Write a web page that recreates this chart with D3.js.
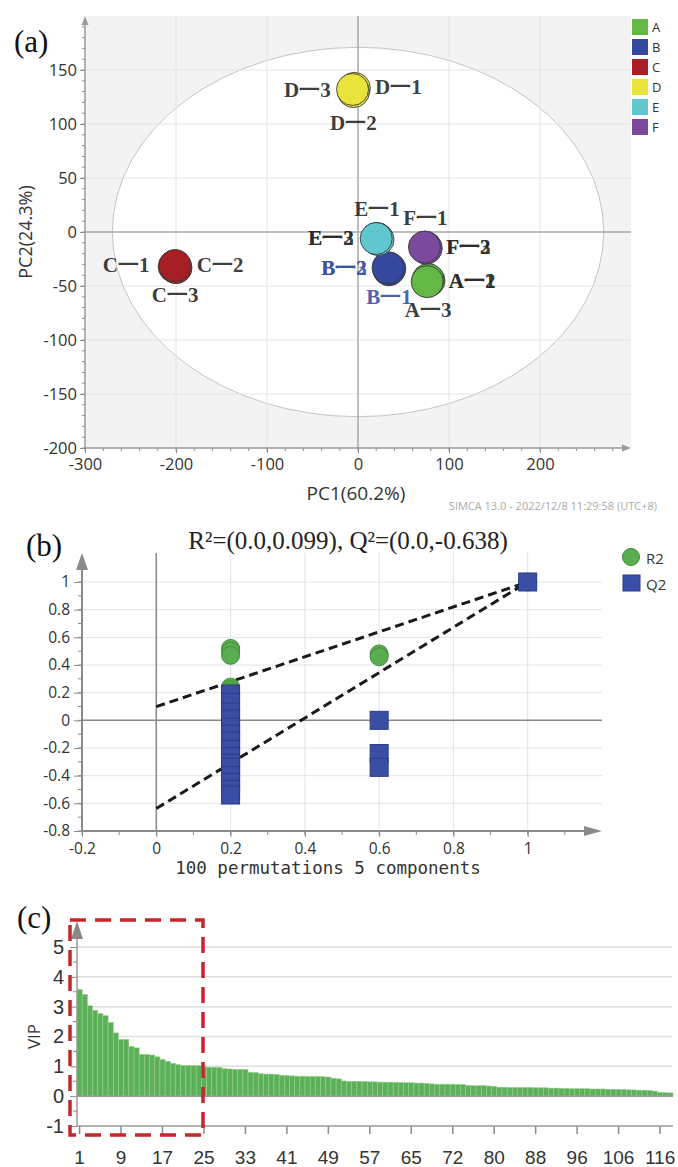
<!DOCTYPE html>
<html>
<head>
<meta charset="utf-8">
<script src="https://cdn.jsdelivr.net/npm/d3@7"></script>
<style>
body { margin: 0; background: #fff; }
svg { display: block; }
</style>
</head>
<body>
<svg width="678" height="1167"></svg>
<script>
"use strict";
// ---------- (a) PCA score plot ----------
const groups = ["A", "B", "C", "D", "E", "F"];
const groupColors = ["#63b846", "#34489e", "#a71f25", "#e8e43c", "#61c8cf", "#7b4a9d"];
const sampleGroup = ["A", "A", "A", "B", "B", "B", "C", "C", "C", "D", "D", "D", "E", "E", "E", "F", "F", "F"];
const sampleRep = [1, 2, 3, 1, 2, 3, 1, 2, 3, 1, 2, 3, 1, 2, 3, 1, 2, 3];
const pc1 = [78, 77, 76, 34, 35, 33, -202, -200, -201, -4, -5, -6, 21, 22, 20, 74, 75, 73];
const pc2 = [-45, -44, -46, -35, -34, -33, -32, -33, -31, 133, 130, 132, -6, -7, -6, -14, -15, -14];
const pcaXTicks = [-300, -200, -100, 0, 100, 200];
const pcaYTicks = [-200, -150, -100, -50, 0, 50, 100, 150];
const ellipseRadii = [270, 171];

// ---------- (b) permutation test ----------
const r2X = [0.2, 0.2, 0.2, 0.2, 0.2, 0.2, 0.6, 0.6, 1.0];
const r2Y = [0.52, 0.50, 0.47, 0.24, 0.22, 0.20, 0.48, 0.46, 1.0];
const q2X = [0.2, 0.2, 0.2, 0.2, 0.2, 0.2, 0.2, 0.2, 0.2, 0.2, 0.2, 0.2, 0.2, 0.2, 0.2, 0.6, 0.6, 0.6, 1.0];
const q2Y = [0.19, 0.13, 0.06, 0.01, -0.05, -0.1, -0.15, -0.21, -0.26, -0.31, -0.34, -0.4, -0.45, -0.5, -0.54, 0.0, -0.24, -0.34, 1.0];
const regX = [0, 1];
const r2Line = [0.099, 1];
const q2Line = [-0.638, 1];
const permXTicks = [-0.2, 0, 0.2, 0.4, 0.6, 0.8, 1];
const permYTicks = [-0.8, -0.6, -0.4, -0.2, 0, 0.2, 0.4, 0.6, 0.8, 1];

// ---------- (c) VIP ----------
const vip = [3.58, 3.41, 3.03, 2.88, 2.77, 2.70, 2.47, 2.12, 1.90, 1.90,
  1.67, 1.62, 1.40, 1.40, 1.38, 1.32, 1.23, 1.17, 1.10, 1.06,
  1.03, 1.03, 1.02, 1.02, 0.99, 0.97, 0.97, 0.96, 0.92, 0.91,
  0.90, 0.90, 0.89, 0.80, 0.79, 0.75, 0.74, 0.74, 0.73, 0.70,
  0.69, 0.68, 0.67, 0.67, 0.66, 0.66, 0.66, 0.65, 0.64, 0.60,
  0.58, 0.51, 0.50, 0.50, 0.50, 0.49, 0.48, 0.48, 0.47, 0.47,
  0.47, 0.46, 0.46, 0.45, 0.45, 0.44, 0.44, 0.43, 0.41, 0.40,
  0.40, 0.40, 0.40, 0.39, 0.39, 0.36, 0.35, 0.35, 0.35, 0.34,
  0.33, 0.30, 0.30, 0.29, 0.29, 0.29, 0.29, 0.29, 0.28, 0.28,
  0.28, 0.27, 0.27, 0.26, 0.26, 0.25, 0.25, 0.25, 0.25, 0.24,
  0.24, 0.24, 0.23, 0.23, 0.23, 0.22, 0.21, 0.21, 0.20, 0.20,
  0.19, 0.17, 0.13, 0.12, 0.11];
const vipTickLabels = ["1", "9", "17", "25", "33", "41", "49", "57", "65", "72", "80", "88", "96", "106", "116"];
const vipYTicks = [-1, 0, 1, 2, 3, 4, 5];

const svg = d3.select("svg");
const serif = "'Liberation Serif', 'Times New Roman', serif";
const sans = "'Open Sans', 'Noto Sans', sans-serif";
// plain hyphen for negatives, like the original
const fmt = d => String(+d.toFixed(2));

function styleAxis(g, size, font) {
  g.select(".domain").remove();
  g.selectAll(".tick line").attr("stroke", "#8a8a8a");
  g.selectAll(".tick text").attr("fill", "#333").style("font-family", font || sans).style("font-size", size + "px");
}

// ================= panel (a) =================
const xA = d3.scaleLinear().domain([-300, 300]).range([85, 631]);
const yA = d3.scaleLinear().domain([-200, 200]).range([448, 16]);
const pa = svg.append("g");

pa.append("rect")
  .attr("x", xA(-300)).attr("y", yA(200))
  .attr("width", xA(300) - xA(-300)).attr("height", yA(-200) - yA(200))
  .attr("fill", "#f3f3f3");
pa.append("ellipse")
  .attr("cx", xA(0)).attr("cy", yA(0))
  .attr("rx", xA(ellipseRadii[0]) - xA(0)).attr("ry", yA(0) - yA(ellipseRadii[1]))
  .attr("fill", "#fff").attr("stroke", "#c4c4c4").attr("stroke-width", 1);

pa.append("g").selectAll("line")
  .data(pcaXTicks.filter(d => d !== 0 && d !== -300))
  .join("line")
  .attr("x1", d => xA(d)).attr("x2", d => xA(d))
  .attr("y1", yA(200)).attr("y2", yA(-200))
  .attr("stroke", "#e4e4e4");
pa.append("g").selectAll("line")
  .data(pcaYTicks.filter(d => d !== 0 && d !== -200))
  .join("line")
  .attr("x1", xA(-300)).attr("x2", xA(300))
  .attr("y1", d => yA(d)).attr("y2", d => yA(d))
  .attr("stroke", "#e4e4e4");
pa.append("line")
  .attr("x1", xA(0)).attr("x2", xA(0)).attr("y1", yA(200)).attr("y2", yA(-200))
  .attr("stroke", "#a8a8a8").attr("stroke-width", 1.5);
pa.append("line")
  .attr("x1", xA(-300)).attr("x2", xA(300)).attr("y1", yA(0)).attr("y2", yA(0))
  .attr("stroke", "#a8a8a8").attr("stroke-width", 1.5);

// minor ticks
pa.append("g").selectAll("line")
  .data(d3.range(-300, 300, 20))
  .join("line")
  .attr("x1", d => xA(d)).attr("x2", d => xA(d))
  .attr("y1", yA(-200)).attr("y2", yA(-200) + 3)
  .attr("stroke", "#8a8a8a");
pa.append("g").selectAll("line")
  .data(d3.range(-200, 200, 10))
  .join("line")
  .attr("x1", xA(-300) - 3).attr("x2", xA(-300))
  .attr("y1", d => yA(d)).attr("y2", d => yA(d))
  .attr("stroke", "#8a8a8a");

pa.append("g")
  .attr("transform", `translate(0,${yA(-200)})`)
  .call(d3.axisBottom(xA).tickValues(pcaXTicks).tickFormat(fmt).tickSize(5).tickPadding(5))
  .call(g => styleAxis(g, 16.5));
pa.append("g")
  .attr("transform", `translate(${xA(-300)},0)`)
  .call(d3.axisLeft(yA).tickValues(pcaYTicks).tickFormat(fmt).tickSize(5).tickPadding(3))
  .call(g => styleAxis(g, 16.5));
pa.append("line")
  .attr("x1", xA(-300)).attr("x2", xA(300) - 4).attr("y1", yA(-200)).attr("y2", yA(-200))
  .attr("stroke", "#9a9a9a").attr("stroke-width", 1.5);
pa.append("line")
  .attr("x1", xA(-300)).attr("x2", xA(-300)).attr("y1", yA(-200)).attr("y2", yA(200) + 4)
  .attr("stroke", "#9a9a9a").attr("stroke-width", 1.5);
pa.append("path")
  .attr("d", `M${xA(300)},${yA(-200)} l-9,-3.5 l0,7 Z`).attr("fill", "#9a9a9a");
pa.append("path")
  .attr("d", `M${xA(-300)},${yA(200)} l-3.5,9 l7,0 Z`).attr("fill", "#9a9a9a");

const color = d3.scaleOrdinal().domain(groups).range(groupColors);
const samples = pc1.map((d, i) => ({ g: sampleGroup[i], rep: sampleRep[i], x: pc1[i], y: pc2[i] }));
pa.append("g").selectAll("circle")
  .data(samples)
  .join("circle")
  .attr("cx", d => xA(d.x)).attr("cy", d => yA(d.y)).attr("r", 16)
  .attr("fill", d => color(d.g))
  .attr("stroke", "#3a3a3a").attr("stroke-width", 0.9);

// sample labels: [group, text, dx, dy] relative to group centre (pixels)
const labelPlacement = [
  ["D", "D一3", -46, 0], ["D", "D一1", 45, -3], ["D", "D一2", 0, 33],
  ["C", "C一1", -49, -2], ["C", "C一2", 45, -2], ["C", "C一3", 0, 28],
  ["E", "E一1", 0, -30], ["E", "E一2", -46, -1], ["E", "E一3", -46, -1],
  ["F", "F一1", 0, -29], ["F", "F一2", 43, 0], ["F", "F一3", 43, 0],
  ["B", "B一2", -45, -1], ["B", "B一3", -45, -1], ["B", "B一1", 0, 28],
  ["A", "A一1", 44, 0], ["A", "A一2", 44, 0], ["A", "A一3", 0, 29]
];
const groupCentre = g => {
  const s = samples.filter(d => d.g === g);
  return [xA(d3.mean(s, d => d.x)), yA(d3.mean(s, d => d.y))];
};
pa.append("g").selectAll("text")
  .data(labelPlacement)
  .join("text")
  .attr("x", d => groupCentre(d[0])[0] + d[2])
  .attr("y", d => groupCentre(d[0])[1] + d[3])
  .attr("text-anchor", "middle").attr("dominant-baseline", "central")
  .style("font-family", serif).style("font-weight", "bold").style("font-size", "21px")
  .attr("fill", d => d[0] === "B" ? "#3d52a8" : "#2b2b2b")
  .attr("fill-opacity", 0.92)
  .text(d => d[1]);

const legA = pa.append("g").attr("transform", "translate(632,19)");
legA.selectAll("rect").data(groups).join("rect")
  .attr("x", 0).attr("y", (d, i) => i * 20).attr("width", 16).attr("height", 16)
  .attr("fill", d => color(d));
legA.selectAll("text").data(groups).join("text")
  .attr("x", 20).attr("y", (d, i) => i * 20 + 8)
  .attr("dominant-baseline", "central")
  .style("font-family", sans).style("font-size", "13px").attr("fill", "#333")
  .text(d => d);

pa.append("text").attr("x", 14).attr("y", 52)
  .style("font-family", serif).style("font-size", "31px").attr("fill", "#111").text("(a)");
pa.append("text")
  .attr("transform", `translate(25,${yA(0)}) rotate(-90)`)
  .attr("text-anchor", "middle").attr("dominant-baseline", "central")
  .style("font-family", sans).style("font-size", "18px").attr("fill", "#333").text("PC2(24.3%)");
pa.append("text").attr("x", 356).attr("y", 493)
  .attr("text-anchor", "middle").attr("dominant-baseline", "central")
  .style("font-family", sans).style("font-size", "19px").attr("fill", "#333").text("PC1(60.2%)");
pa.append("text").attr("x", 657).attr("y", 505)
  .attr("text-anchor", "end").attr("dominant-baseline", "central")
  .style("font-family", sans).style("font-size", "11px").attr("fill", "#aaa")
  .text("SIMCA 13.0 - 2022/12/8 11:29:58 (UTC+8)");

// ================= panel (b) =================
const xB = d3.scaleLinear().domain([-0.2, 1.2]).range([82, 602]);
const yB = d3.scaleLinear().domain([-0.8, 1.0]).range([831, 582]);
const pb = svg.append("g");
const yTopB = 553;

pb.append("g").selectAll("line")
  .data(permXTicks.filter(d => d > 0))
  .join("line")
  .attr("x1", d => xB(d)).attr("x2", d => xB(d)).attr("y1", yTopB).attr("y2", yB(-0.8))
  .attr("stroke", "#e2e4ea");
pb.append("g").selectAll("line")
  .data(permYTicks.filter(d => d !== 0 && d !== -0.8))
  .join("line")
  .attr("x1", xB(-0.2)).attr("x2", xB(1.2)).attr("y1", d => yB(d)).attr("y2", d => yB(d))
  .attr("stroke", "#e2e4ea");
pb.append("line")
  .attr("x1", xB(0)).attr("x2", xB(0)).attr("y1", yTopB).attr("y2", yB(-0.8))
  .attr("stroke", "#888").attr("stroke-width", 1.5);
pb.append("line")
  .attr("x1", xB(-0.2)).attr("x2", xB(1.2)).attr("y1", yB(0)).attr("y2", yB(0))
  .attr("stroke", "#888").attr("stroke-width", 1.5);

pb.append("g").selectAll("line")
  .data(d3.range(-0.8, 1.001, 0.1))
  .join("line")
  .attr("x1", xB(-0.2) - 4).attr("x2", xB(-0.2)).attr("y1", d => yB(d)).attr("y2", d => yB(d))
  .attr("stroke", "#8a8a8a");
pb.append("g").selectAll("line")
  .data(d3.range(-0.2, 1.15, 0.1))
  .join("line")
  .attr("x1", d => xB(d)).attr("x2", d => xB(d)).attr("y1", yB(-0.8)).attr("y2", yB(-0.8) + 4)
  .attr("stroke", "#8a8a8a");
pb.append("g")
  .attr("transform", `translate(0,${yB(-0.8)})`)
  .call(d3.axisBottom(xB).tickValues(permXTicks).tickFormat(fmt).tickSize(6).tickPadding(6))
  .call(g => styleAxis(g, 15.5));
pb.append("g")
  .attr("transform", `translate(${xB(-0.2)},0)`)
  .call(d3.axisLeft(yB).tickValues(permYTicks).tickFormat(fmt).tickSize(8).tickPadding(4))
  .call(g => styleAxis(g, 15.5));
pb.append("line")
  .attr("x1", xB(-0.2)).attr("x2", xB(1.2) - 10).attr("y1", yB(-0.8)).attr("y2", yB(-0.8))
  .attr("stroke", "#8a8a8a").attr("stroke-width", 2);
pb.append("line")
  .attr("x1", xB(-0.2)).attr("x2", xB(-0.2)).attr("y1", yB(-0.8)).attr("y2", yTopB + 10)
  .attr("stroke", "#8a8a8a").attr("stroke-width", 2);
pb.append("path")
  .attr("d", `M${xB(1.2)},${yB(-0.8)} l-18,-5 l0,10 Z`).attr("fill", "#8a8a8a");
pb.append("path")
  .attr("d", `M${xB(-0.2)},${yTopB} l-6,17 l12,0 Z`).attr("fill", "#8a8a8a");

const regLine = d3.line().x(d => xB(d[0])).y(d => yB(d[1]));
[r2Line, q2Line].forEach(vals => {
  pb.append("path")
    .attr("d", regLine(regX.map((x, i) => [x, vals[i]])))
    .attr("fill", "none").attr("stroke", "#1a1a1a")
    .attr("stroke-width", 3).attr("stroke-dasharray", "9,5");
});

pb.append("g").selectAll("circle")
  .data(r2X.map((x, i) => [x, r2Y[i]]))
  .join("circle")
  .attr("cx", d => xB(d[0])).attr("cy", d => yB(d[1])).attr("r", 9)
  .attr("fill", "#5bae50").attr("stroke", "#3f8b3a").attr("stroke-width", 1);
pb.append("g").selectAll("rect")
  .data(q2X.map((x, i) => [x, q2Y[i]]))
  .join("rect")
  .attr("x", d => xB(d[0]) - 9).attr("y", d => yB(d[1]) - 9)
  .attr("width", 18).attr("height", 18)
  .attr("fill", "#3b4ea6").attr("stroke", "#2c3b86").attr("stroke-width", 1);

pb.append("circle").attr("cx", 631).attr("cy", 557).attr("r", 8.5)
  .attr("fill", "#5bae50").attr("stroke", "#3f8b3a");
pb.append("rect").attr("x", 623).attr("y", 575).attr("width", 17).attr("height", 16)
  .attr("fill", "#3b4ea6").attr("stroke", "#2c3b86");
pb.append("text").attr("x", 646).attr("y", 558).attr("dominant-baseline", "central")
  .style("font-family", sans).style("font-size", "15px").attr("fill", "#333").text("R2");
pb.append("text").attr("x", 646).attr("y", 584).attr("dominant-baseline", "central")
  .style("font-family", sans).style("font-size", "15px").attr("fill", "#333").text("Q2");

pb.append("text").attr("x", 348).attr("y", 549).attr("text-anchor", "middle")
  .style("font-family", serif).style("font-size", "25px").attr("fill", "#222")
  .text("R²=(0.0,0.099), Q²=(0.0,-0.638)");
pb.append("text").attr("x", 26).attr("y", 556)
  .style("font-family", serif).style("font-size", "31px").attr("fill", "#111").text("(b)");
pb.append("text").attr("x", 328).attr("y", 868)
  .attr("text-anchor", "middle").attr("dominant-baseline", "central")
  .style("font-family", "'DejaVu Sans Mono', monospace").style("font-size", "17.5px").attr("fill", "#333")
  .text("100 permutations 5 components");

// ================= panel (c) =================
const xC = d3.scaleBand().domain(d3.range(vip.length)).range([77, 673]).padding(0);
const yC = d3.scaleLinear().domain([-1, 5]).range([1126, 947]);
const pc = svg.append("g");

pc.append("g").selectAll("line")
  .data(vipYTicks.filter(d => d > 0))
  .join("line")
  .attr("x1", xC.range()[0]).attr("x2", 672).attr("y1", d => yC(d)).attr("y2", d => yC(d))
  .attr("stroke", "#dedede").attr("stroke-width", 1.5);

pc.append("g").selectAll("rect")
  .data(vip)
  .join("rect")
  .attr("x", (d, i) => xC(i)).attr("width", xC.bandwidth())
  .attr("y", d => yC(d)).attr("height", d => yC(0) - yC(d))
  .attr("fill", "#5cb057").attr("stroke", "#93d08e").attr("stroke-width", 0.6);

pc.append("line")
  .attr("x1", xC.range()[0]).attr("x2", 673).attr("y1", yC(0)).attr("y2", yC(0))
  .attr("stroke", "#9a9a9a").attr("stroke-width", 1.5);

const vipTickIdx = vipTickLabels.map((d, i) => i * 8);
pc.append("g")
  .attr("transform", `translate(0,${yC(-1)})`)
  .call(d3.axisBottom(xC).tickValues(vipTickIdx).tickFormat((d, i) => vipTickLabels[i]).tickSize(8).tickPadding(17))
  .call(g => styleAxis(g, 19, "'Liberation Sans', Arial, sans-serif"))
  .call(g => g.selectAll(".tick line").attr("stroke-width", 1.5));
pc.append("g")
  .attr("transform", `translate(${xC.range()[0]},0)`)
  .call(d3.axisLeft(yC).tickValues(vipYTicks).tickFormat(fmt).tickSize(7).tickPadding(6))
  .call(g => styleAxis(g, 20, "'Liberation Sans', Arial, sans-serif"));
pc.append("g").selectAll("line")
  .data(d3.range(-0.5, 5, 1))
  .join("line")
  .attr("x1", xC.range()[0] - 4).attr("x2", xC.range()[0]).attr("y1", d => yC(d)).attr("y2", d => yC(d))
  .attr("stroke", "#8a8a8a");
pc.append("line")
  .attr("x1", xC.range()[0]).attr("x2", 673).attr("y1", yC(-1)).attr("y2", yC(-1))
  .attr("stroke", "#9a9a9a").attr("stroke-width", 1.5);
pc.append("line")
  .attr("x1", xC.range()[0]).attr("x2", xC.range()[0]).attr("y1", yC(-1)).attr("y2", 935)
  .attr("stroke", "#9a9a9a").attr("stroke-width", 1.5);
pc.append("path")
  .attr("d", `M${xC.range()[0]},921 l-6,18 l12,0 Z`).attr("fill", "#8a8a8a");

pc.append("rect")
  .attr("x", 70).attr("y", 920).attr("width", 133).attr("height", 215)
  .attr("fill", "none").attr("stroke", "#c8242b").attr("stroke-width", 3.5)
  .attr("stroke-dasharray", "16,9");

pc.append("text")
  .attr("transform", `translate(33,${yC(2)}) rotate(-90)`)
  .attr("text-anchor", "middle").attr("dominant-baseline", "central")
  .style("font-family", sans).style("font-size", "17px").attr("fill", "#333").text("VIP");
pc.append("text").attr("x", 17).attr("y", 928)
  .style("font-family", serif).style("font-size", "31px").attr("fill", "#111").text("(c)");
</script>
</body>
</html>
